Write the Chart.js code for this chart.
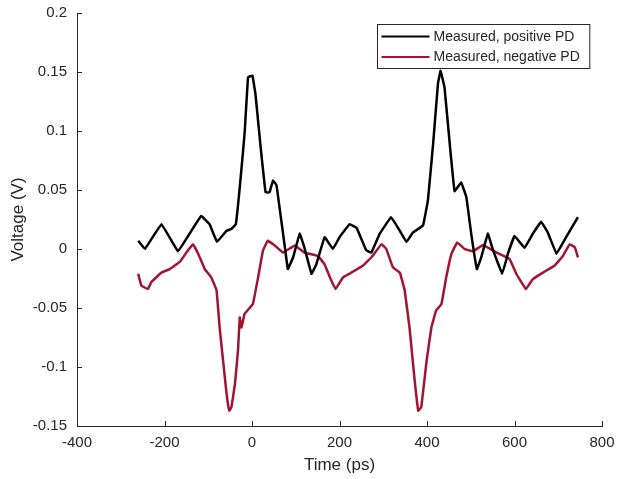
<!DOCTYPE html>
<html>
<head>
<meta charset="utf-8">
<script src="https://cdn.jsdelivr.net/npm/chart.js@4"></script>
<style>
  html, body { margin: 0; padding: 0; background: #fff; }
  #wrap { width: 619px; height: 479px; }
</style>
</head>
<body>
<div id="wrap"><canvas id="chart" width="619" height="479"></canvas></div>
<script>
// values
const posTime = [-260, -245, -207, -169, -146, -116, -97, -80, -58, -47,
  -37, -28, -17, -9, 1, 8, 19, 31, 40, 48,
  56, 63, 71, 82, 94, 109, 120, 136, 147, 166,
  185, 200, 223, 239, 261, 273, 292, 318, 337, 353,
  368, 391, 402, 414, 425, 431, 440, 452, 463, 478,
  490, 501, 514, 524, 539, 551, 572, 585, 600, 623,
  642, 661, 676, 696, 718, 745]
const posVolt = [0.007, 0.0, 0.021, -0.002, 0.011, 0.028, 0.021, 0.006, 0.0155, 0.017,
  0.021, 0.052, 0.0975, 0.1455, 0.147, 0.131, 0.089, 0.048, 0.048, 0.058,
  0.054, 0.035, 0.013, -0.017, -0.007, 0.013, 0.001, -0.021, -0.013, 0.010,
  0.0, 0.010, 0.021, 0.018, -0.001, -0.003, 0.013, 0.027, 0.016, 0.006,
  0.014, 0.020, 0.041, 0.089, 0.140, 0.151, 0.137, 0.089, 0.049, 0.0565,
  0.044, 0.013, -0.017, -0.007, 0.013, -0.001, -0.021, -0.004, 0.011, 0.001,
  0.013, 0.023, 0.014, -0.004, 0.010, 0.027]

const negTime = [-260, -253, -238, -230, -207, -188, -165, -150, -135, -123,
  -108, -93, -81, -74, -66, -58, -52, -47, -39, -32,
  -28, -24, -17, 2, 14, 25, 36, 52, 71, 98,
  120, 151, 166, 178, 191, 208, 227, 254, 273, 296,
  307, 322, 338, 349, 360, 372, 380, 387, 399, 410,
  421, 433, 444, 456, 469, 486, 505, 528, 559, 589,
  604, 626, 642, 665, 692, 711, 726, 738, 745]
const negVolt = [-0.021, -0.031, -0.034, -0.028, -0.020, -0.017, -0.011, -0.003, 0.004, -0.004,
  -0.017, -0.024, -0.035, -0.0665, -0.095, -0.123, -0.137, -0.134, -0.1145, -0.086,
  -0.058, -0.0665, -0.055, -0.0467, -0.024, -0.0014, 0.007, 0.003, -0.003, 0.003,
  -0.003, -0.006, -0.013, -0.024, -0.034, -0.024, -0.020, -0.014, -0.007, 0.004,
  0.0, -0.0156, -0.020, -0.035, -0.0665, -0.112, -0.137, -0.134, -0.095, -0.0665,
  -0.052, -0.0467, -0.024, -0.004, 0.0056, 0.0, -0.002, 0.0034, -0.003, -0.0085,
  -0.021, -0.034, -0.0255, -0.020, -0.014, -0.0057, 0.004, 0.0014, -0.007]

const seriesLabels = ['Measured, positive PD', 'Measured, negative PD']
const xTicks = [-400, -200, 0, 200, 400, 600, 800]
const yTicks = [-0.15, -0.1, -0.05, 0, 0.05, 0.1, 0.15, 0.2]

const axisColor = '#262626'
const fontFamily = '"Liberation Sans", Arial, Helvetica, sans-serif'

const toPoints = (xs, ys) => xs.map((x, i) => ({ x: x, y: ys[i] }))

// MATLAB style ticks pointing into the axes
const innerTicks = {
  id: 'innerTicks',
  beforeDatasetsDraw(chart) {
    const { ctx, scales: { x, y } } = chart
    const len = 5
    ctx.save()
    ctx.strokeStyle = axisColor
    ctx.lineWidth = 1
    ctx.beginPath()
    x.ticks.forEach(t => {
      const px = Math.round(x.getPixelForValue(t.value)) + 0.5
      ctx.moveTo(px, x.top)
      ctx.lineTo(px, x.top - len)
    })
    y.ticks.forEach(t => {
      const py = Math.round(y.getPixelForValue(t.value)) + 0.5
      ctx.moveTo(y.right, py)
      ctx.lineTo(y.right + len, py)
    })
    ctx.stroke()
    ctx.restore()
  }
}

// boxed legend in the top right corner of the axes
const boxLegend = {
  id: 'boxLegend',
  afterDatasetsDraw(chart) {
    const { ctx, chartArea } = chart
    const sets = chart.data.datasets
    ctx.save()
    ctx.font = '14px ' + fontFamily
    const textW = Math.max(...sets.map(d => ctx.measureText(d.label).width))
    const w = 56 + textW + 10
    const h = 44
    const left = Math.round(chartArea.right - 13 - w) + 0.5
    const top = Math.round(chartArea.top + 11) + 0.5
    ctx.fillStyle = '#fff'
    ctx.fillRect(left, top, w, h)
    ctx.strokeStyle = axisColor
    ctx.lineWidth = 1
    ctx.strokeRect(left, top, w, h)
    sets.forEach((d, i) => {
      const cy = top + 12 + i * 20.5
      ctx.strokeStyle = d.borderColor
      ctx.lineWidth = 2
      ctx.beginPath()
      ctx.moveTo(left + 4, cy)
      ctx.lineTo(left + 52, cy)
      ctx.stroke()
      ctx.fillStyle = axisColor
      ctx.textBaseline = 'middle'
      ctx.textAlign = 'left'
      ctx.fillText(d.label, left + 56, cy + 0.5)
    })
    ctx.restore()
  }
}

new Chart(document.getElementById('chart').getContext('2d'), {
  type: 'line',
  data: {
    datasets: [{
      label: seriesLabels[0],
      data: toPoints(posTime, posVolt),
      borderColor: '#000000',
      borderWidth: 2.5,
      pointRadius: 0,
      tension: 0.05
    }, {
      label: seriesLabels[1],
      data: toPoints(negTime, negVolt),
      borderColor: '#A2142F',
      borderWidth: 2.5,
      pointRadius: 0,
      tension: 0.05
    }]
  },
  options: {
    responsive: false,
    animation: false,
    layout: {
      padding: { top: 13, right: 17, left: 0, bottom: 0 }
    },
    plugins: {
      legend: { display: false },
      tooltip: { enabled: false }
    },
    scales: {
      x: {
        type: 'linear',
        min: -400,
        max: 800,
        afterBuildTicks: s => { s.ticks = xTicks.map(v => ({ value: v })) },
        afterFit: s => { s.height = 53; s.paddingLeft = 0; s.paddingRight = 0 },
        grid: { display: false, drawTicks: false },
        border: { display: true, color: axisColor, width: 1 },
        ticks: {
          color: axisColor,
          padding: 8,
          maxRotation: 0,
          font: { family: fontFamily, size: 15 }
        },
        title: {
          display: true,
          text: 'Time (ps)',
          color: axisColor,
          padding: { top: 0, bottom: 3 },
          font: { family: fontFamily, size: 17 }
        }
      },
      y: {
        min: -0.15,
        max: 0.2,
        afterBuildTicks: s => { s.ticks = yTicks.map(v => ({ value: v })) },
        afterFit: s => { s.width = 77; s.paddingTop = 0; s.paddingBottom = 0 },
        grid: { display: false, drawTicks: false },
        border: { display: true, color: axisColor, width: 1 },
        ticks: {
          color: axisColor,
          padding: 10,
          font: { family: fontFamily, size: 15 },
          callback: v => String(+v.toFixed(2))
        },
        title: {
          display: true,
          text: 'Voltage (V)',
          color: axisColor,
          padding: { top: 8, bottom: 0 },
          font: { family: fontFamily, size: 17 }
        }
      }
    }
  },
  plugins: [innerTicks, boxLegend]
})
</script>
</body>
</html>
